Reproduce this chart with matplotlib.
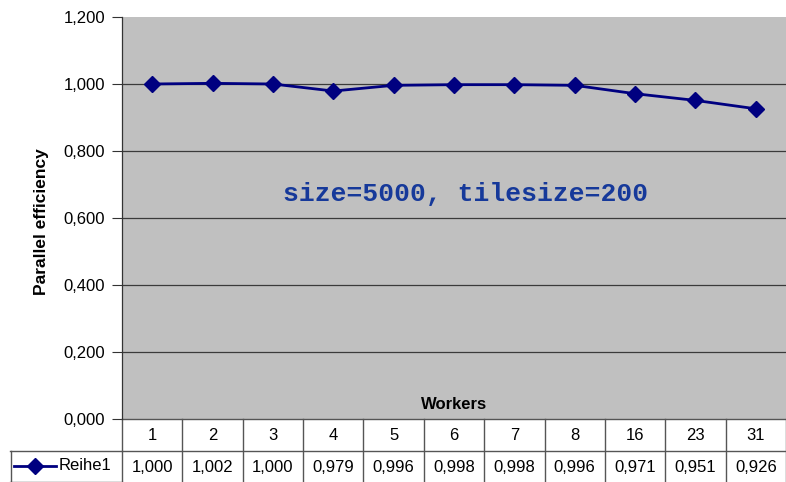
import matplotlib.pyplot as plt
from matplotlib.transforms import blended_transform_factory

workers = ["1", "2", "3", "4", "5", "6", "7", "8", "16", "23", "31"]
efficiency = [1.000, 1.002, 1.000, 0.979, 0.996, 0.998, 0.998, 0.996, 0.971, 0.951, 0.926]
series_name = "Reihe1"
yticks = [0.0, 0.2, 0.4, 0.6, 0.8, 1.0, 1.2]

plt.rcParams["font.family"] = ["Liberation Sans", "DejaVu Sans"]
navy = "#000080"
edge = "#555555"
fs = 12

W, H = 786, 482
fig = plt.figure(figsize=(W / 100, H / 100), dpi=100)
ax = fig.add_axes([122 / W, (H - 419) / H, 664 / W, 402 / H])
ax.set_facecolor("#c0c0c0")

x = list(range(len(workers)))
ax.plot(x, efficiency, color=navy, lw=2.0, marker="D", ms=8.5, zorder=3)

ax.set_xlim(-0.5, len(workers) - 0.5)
ax.set_ylim(0, 1.2)
ax.set_yticks(yticks)
ax.set_yticklabels([f"{v:.3f}".replace(".", ",") for v in yticks], fontsize=fs)
ax.tick_params(axis="y", direction="out", length=7, width=0.8, color="#333333", pad=5)
ax.set_xticks([])
for v in yticks[1:-1]:
    ax.axhline(v, color="#3a3a3a", lw=0.9, zorder=1)
for s in ["top", "right", "bottom"]:
    ax.spines[s].set_visible(False)
ax.spines["left"].set_color("#333333")
ax.spines["left"].set_linewidth(0.9)

ax.set_ylabel("Parallel efficiency", fontsize=12.5, fontweight="bold")
ax.yaxis.set_label_coords(-(122 - 49) / 664, 0.49)
ax.text(0.5, 0.035, "Workers", transform=ax.transAxes, ha="center", va="center",
        fontsize=fs, fontweight="bold")
ax.text(0.518, 0.56, "size=5000, tilesize=200", transform=ax.transAxes,
        ha="center", va="center", fontsize=19, fontweight="bold",
        family=["Liberation Mono", "DejaVu Sans Mono"], color="#16399a")

# data table below the plot area
tr = blended_transform_factory(ax.transData, ax.transAxes)
row_h = 32 / 402
n = len(workers)
line_kw = dict(color=edge, lw=1.0, clip_on=False, transform=tr)
for k in range(3):
    ax.plot([-0.5, n - 0.5], [-k * row_h] * 2, **line_kw)
for i in range(n + 1):
    ax.plot([i - 0.5] * 2, [0, -2 * row_h], **line_kw)
for i, (w, v) in enumerate(zip(workers, efficiency)):
    ax.text(i, -0.5 * row_h, w, transform=tr, ha="center", va="center",
            fontsize=fs, clip_on=False)
    ax.text(i, -1.5 * row_h, f"{v:.3f}".replace(".", ","), transform=tr,
            ha="center", va="center", fontsize=fs, clip_on=False)

# legend cell
fx = lambda px: px / W
fy = lambda py: 1 - py / H
fig.add_artist(plt.Line2D([fx(10), fx(122)], [fy(451)] * 2, color=edge, lw=1.0))
fig.add_artist(plt.Line2D([fx(10), fx(122)], [fy(481.5)] * 2, color=edge, lw=1.0))
fig.add_artist(plt.Line2D([fx(10.5)] * 2, [fy(451), fy(481.5)], color=edge, lw=1.0))
fig.add_artist(plt.Line2D([fx(14), fx(56)], [fy(466)] * 2, color=navy, lw=2.0))
fig.add_artist(plt.Line2D([fx(35)], [fy(466)], color=navy, marker="D", ms=8))
fig.text(fx(59), fy(466), series_name, ha="left", va="center", fontsize=fs)

fig.savefig("out.png", dpi=100)
